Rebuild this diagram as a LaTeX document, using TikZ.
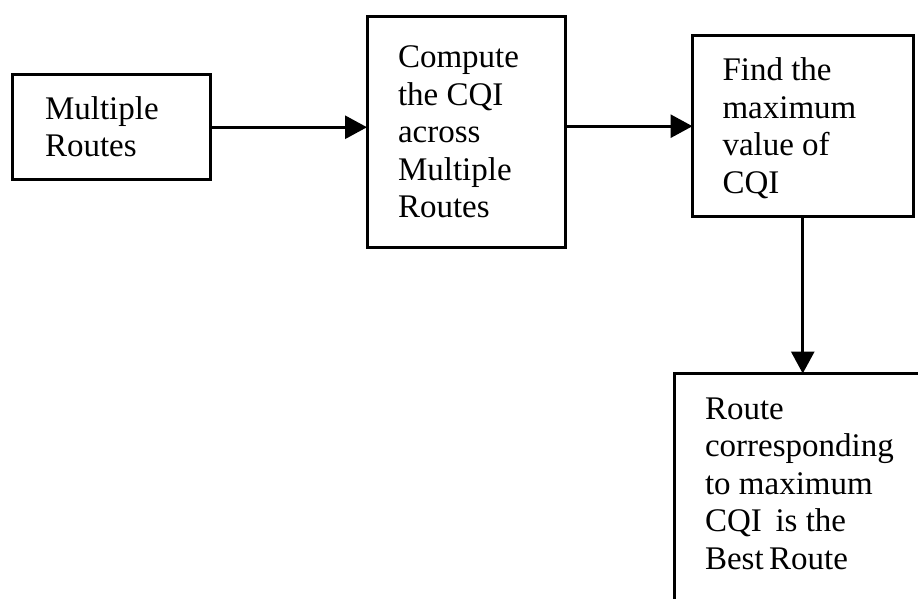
\documentclass[tikz,border=0pt]{standalone}
\usepackage{fontspec}
\setmainfont{Liberation Serif}
\usetikzlibrary{arrows.meta,calc}

\tikzset{
  stepbox/.style={draw=black, line width=3pt, rectangle, outer sep=0pt,
                  inner sep=0pt, anchor=north west, fill=white},
  boxtext/.style={anchor=base west, inner sep=0pt, outer sep=0pt,
                  font=\fontsize{33}{37.5}\selectfont},
  flow/.style={line width=3pt, -{Triangle[length=22pt,width=23pt]}}
}
\newcommand{\lines}[1]{\begin{tabular}[t]{@{}l@{}}#1\end{tabular}}

\begin{document}
\begin{tikzpicture}[x=1pt,y=-1pt]
  \clip (0,0) rectangle (918,599);
  \fill[white] (0,0) rectangle (918,599);

  % process boxes
  \node[stepbox, minimum width=198pt,   minimum height=104.5pt] (b1) at (12.5,75)   {};
  \node[stepbox, minimum width=198.7pt, minimum height=230.5pt] (b2) at (367,16.5)  {};
  \node[stepbox, minimum width=220.5pt, minimum height=181pt]   (b3) at (692.5,35.7) {};
  \node[stepbox, minimum width=280pt,   minimum height=260pt]   (b4) at (674,373.5) {};

  % box captions, placed on the first baseline
  \node[boxtext] (t1) at ($(b1.north west)+(32.5,44.3)$) {\lines{Multiple\\Routes}};
  \node[boxtext] (t2) at ($(b2.north west)+(31,51.5)$)   {\lines{Compute\\the CQI\\across\\Multiple\\Routes}};
  \node[boxtext] (t3) at ($(b3.north west)+(30,45)$)     {\lines{Find the\\maximum\\value of\\CQI}};
  \node[boxtext] (t4) at ($(b4.north west)+(31,45.5)$)   {\lines{Route\\corresponding\\to maximum\\CQI\ \,is the\\Best\,Route}};

  % connectors
  \draw[flow] (b1.east) -- (b1.east -| b2.west);
  \draw[flow] (b3.west -| b2.east) -- (b3.west);
  \draw[flow] (b3.south) -- (b3.south |- b4.north);
\end{tikzpicture}
\end{document}
